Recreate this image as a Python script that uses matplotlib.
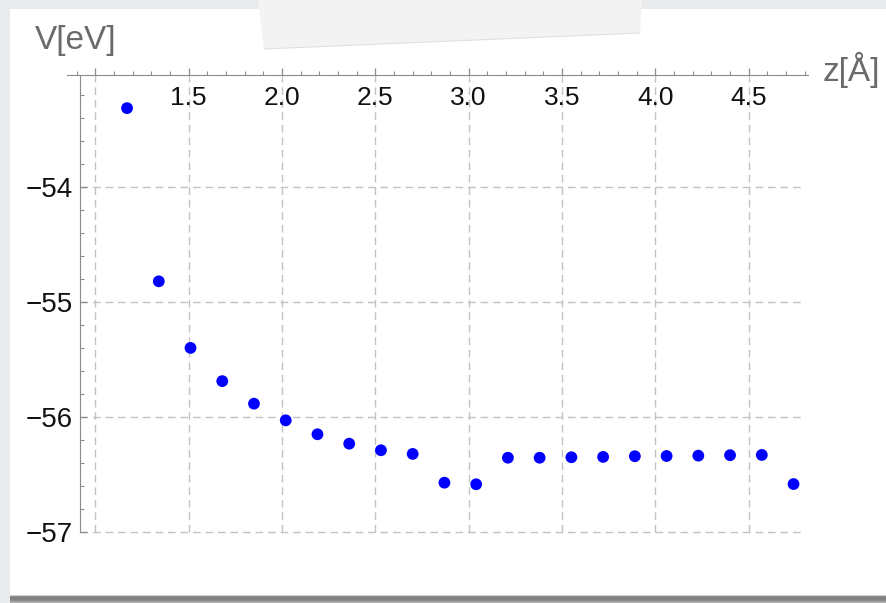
import numpy as np
import matplotlib
import matplotlib.pyplot as plt
from matplotlib.patches import Rectangle, Polygon

matplotlib.use('Agg')

# Data: distance z [Å] vs potential V [eV]
z_values = [1.17, 1.34, 1.51, 1.68, 1.85, 2.02, 2.19, 2.36, 2.53, 2.70, 2.87,
            3.04, 3.21, 3.38, 3.55, 3.72, 3.89, 4.06, 4.23, 4.40, 4.57, 4.74]
v_values = [-53.31, -54.816, -55.395, -55.684, -55.88, -56.025, -56.146, -56.228,
            -56.285, -56.317, -56.567, -56.581, -56.35, -56.35, -56.346, -56.343,
            -56.337, -56.335, -56.332, -56.328, -56.326, -56.579]

x_major = [1.0, 1.5, 2.0, 2.5, 3.0, 3.5, 4.0, 4.5]
x_labels = ['', '1.5', '2.0', '2.5', '3.0', '3.5', '4.0', '4.5']
y_major = [-57, -56, -55, -54]
y_labels = ['\u221257', '\u221256', '\u221255', '\u221254']

W, H = 886, 603
plt.rcParams['font.family'] = ['Liberation Sans', 'DejaVu Sans']

fig = plt.figure(figsize=(W / 100, H / 100), dpi=100)
fig.patch.set_facecolor('#e9eaec')

# Background "photo card" drawn in pixel coordinates
bg = fig.add_axes([0, 0, 1, 1])
bg.axis('off')
bg.add_patch(Rectangle((10, 9), W, 586, facecolor='white', edgecolor='none'))
shadow = np.array([0.15, 0.55, 0.6, 0.62, 0.6, 0.55, 0.45, 0.35]).reshape(-1, 1)
bg.imshow(shadow, extent=(10, W, 603, 595), cmap='Greys', vmin=-0.3, vmax=1.3,
          aspect='auto')
bg.add_patch(Polygon([(258, 0), (642, 0), (640, 33), (264, 49)], closed=True,
                     facecolor='#f3f3f3', edgecolor='none'))
bg.plot([264, 640], [49, 33], color='#e0e0e0', lw=0.8)
bg.set_xlim(0, W)
bg.set_ylim(H, 0)

# Axis titles
bg.text(35, 41, 'V[eV]', fontsize=24, color='#6b6b6b', va='center', ha='left')
bg.text(823, 70, 'z[Å]', fontsize=24, color='#6b6b6b', va='center', ha='left')

# Main plot area
left, right, top, bottom = 67, 808, 75, 535
ax = fig.add_axes([left / W, 1 - bottom / H, (right - left) / W, (bottom - top) / H])
ax.patch.set_alpha(0)
xlim = (0.8484, 4.8174)
ylim = (-57.022, -53.022)
ax.set_xlim(xlim)
ax.set_ylim(ylim)
y_axis_x = 0.918

# dashed grid
grid_kw = dict(color='#c2c2c2', lw=1.0, linestyle=(0, (5.5, 3.5)), zorder=1)
ax.hlines(y_major, y_axis_x, 4.785, **grid_kw)
ax.vlines(x_major, y_major[0], ylim[1], **grid_kw)

ax.scatter(z_values, v_values, s=72, color='#0000ff', zorder=3, edgecolors='none')

for side in ['right', 'bottom']:
    ax.spines[side].set_visible(False)
ax.spines['top'].set_color('#8c8c8c')
ax.spines['left'].set_color('#8c8c8c')
ax.spines['left'].set_position(('data', y_axis_x))
ax.spines['left'].set_bounds(y_major[0], ylim[1])

# x axis on top, ticks pointing up, labels underneath
ax.xaxis.set_ticks_position('top')
ax.set_xticks(x_major)
ax.set_xticks(np.arange(0.9, 4.85, 0.1), minor=True)
ax.tick_params(axis='x', which='both', direction='out', colors='#8c8c8c',
               labeltop=False, labelbottom=False)
ax.tick_params(axis='x', which='major', length=5, width=0.9)
ax.tick_params(axis='x', which='minor', length=3, width=0.8)
for x, lab in zip(x_major, x_labels):
    ax.annotate(lab, xy=(x, 1), xycoords=('data', 'axes fraction'),
                xytext=(0, -8), textcoords='offset points',
                ha='center', va='top', fontsize=19, color='#111111')

# y axis ticks pointing right
ax.set_yticks(y_major)
ax.set_yticklabels(y_labels)
ax.set_yticks(np.arange(-57, -53.0, 0.2), minor=True)
ax.tick_params(axis='y', which='both', direction='in', colors='#8c8c8c',
               labelcolor='#111111', labelsize=20, pad=5)
ax.tick_params(axis='y', which='major', length=5, width=0.9)
ax.tick_params(axis='y', which='minor', length=3, width=0.8)

fig.savefig('out.png', dpi=100, facecolor=fig.get_facecolor())
